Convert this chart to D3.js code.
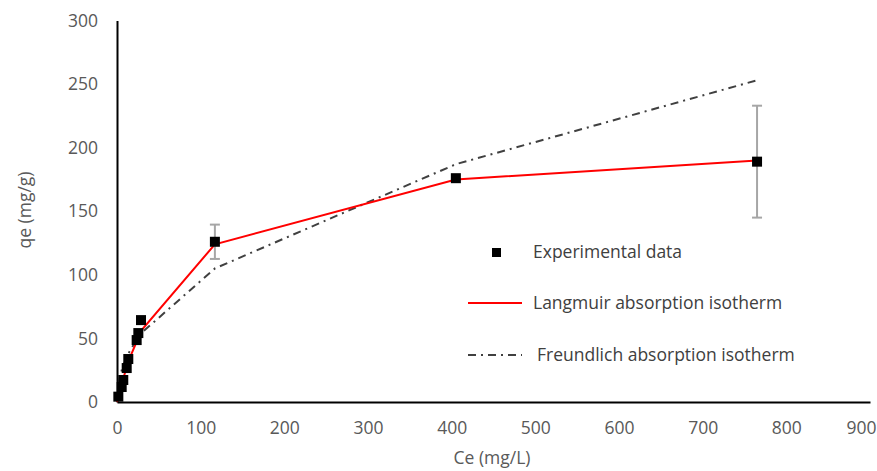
<!DOCTYPE html>
<html>
<head>
<meta charset="utf-8">
<script src="https://cdn.jsdelivr.net/npm/d3@7"></script>
<style>
  body { margin: 0; background: #fff; }
  text { font-family: "Open Sans", "Liberation Sans", Arial, sans-serif; }
</style>
</head>
<body>
<script>
// experimental points
var ce = [1.6, 5.6, 7.5, 11.6, 13.5, 23.5, 25.5, 28.7, 117, 405, 765];
var qe = [4.2, 11.8, 17.3, 26.7, 33.8, 48.7, 54.2, 64.4, 126, 176, 189];
var qeErr = [0, 0, 0, 0, 0, 0, 0, 0, 13.5, 0, 44];

// model curves
var langCe = [0, 1.6, 5.6, 7.5, 11.6, 13.5, 23.5, 25.5, 28.7, 117, 405, 765];
var langmuir = [0, 4, 14, 18.5, 27.5, 32, 47.5, 51, 56, 124, 175, 190];
var freundlich = [14, 25, 28.6, 35, 38, 49, 51, 54, 105, 187, 253];

var xTicks = [0, 100, 200, 300, 400, 500, 600, 700, 800, 900];
var yTicks = [0, 50, 100, 150, 200, 250, 300];

var legendLabels = ["Experimental data", "Langmuir absorption isotherm", "Freundlich absorption isotherm"];

var width = 877, height = 471;

var svg = d3.select("body").append("svg")
    .attr("width", width)
    .attr("height", height);

var x_scale = d3.scaleLinear().domain([0, 900]).range([117, 870]);
var y_scale = d3.scaleLinear().domain([0, 300]).range([402, 20.5]);

var tickColor = "#595959";
var fs = "17.5px";

// axes: only the lines, no ticks
var xAxis = d3.axisBottom(x_scale).tickValues(xTicks).tickSize(0).tickPadding(20);
var yAxis = d3.axisLeft(y_scale).tickValues(yTicks).tickSize(0).tickPadding(19);

var gx = svg.append("g")
    .attr("transform", "translate(0," + y_scale(0) + ")")
    .call(xAxis);
gx.select(".domain").attr("stroke", "#000").attr("stroke-width", 2);
gx.selectAll("text").attr("fill", tickColor).style("font-size", fs);
// last label sits at the window edge
gx.selectAll(".tick").filter(function(d){ return d === 900; }).select("text")
    .attr("text-anchor", "end").attr("x", 6);

var gy = svg.append("g")
    .attr("transform", "translate(" + x_scale(0) + ",0)")
    .call(yAxis);
gy.select(".domain").attr("stroke", "#000").attr("stroke-width", 2);
gy.selectAll("text").attr("fill", tickColor).style("font-size", fs);

// axis titles
svg.append("text")
    .attr("x", 492)
    .attr("y", 464)
    .attr("text-anchor", "middle")
    .attr("fill", tickColor)
    .style("font-size", fs)
    .text("Ce (mg/L)");

svg.append("text")
    .attr("transform", "translate(31,210) rotate(-90)")
    .attr("text-anchor", "middle")
    .attr("fill", tickColor)
    .style("font-size", fs)
    .text("qe (mg/g)");

// freundlich dash-dot
var freLine = d3.line()
    .x(function(d, i){ return x_scale(ce[i]); })
    .y(function(d){ return y_scale(d); });

svg.append("path")
    .datum(freundlich)
    .attr("d", freLine)
    .attr("fill", "none")
    .attr("stroke", "#404040")
    .attr("stroke-width", 2)
    .attr("stroke-dasharray", "8,5,2,5");

// langmuir line
var langLine = d3.line()
    .x(function(d, i){ return x_scale(langCe[i]); })
    .y(function(d){ return y_scale(d); });

svg.append("path")
    .datum(langmuir)
    .attr("d", langLine)
    .attr("fill", "none")
    .attr("stroke", "#ff0000")
    .attr("stroke-width", 2);

// error bars
var errData = ce.map(function(c, i){ return {X: c, Y: qe[i], E: qeErr[i]}; })
    .filter(function(d){ return d.E > 0; });

var eb = svg.selectAll(".err").data(errData).enter().append("g").attr("class", "err")
    .attr("stroke", "#a6a6a6").attr("stroke-width", 2);
eb.append("line")
    .attr("x1", function(d){ return x_scale(d.X); })
    .attr("x2", function(d){ return x_scale(d.X); })
    .attr("y1", function(d){ return y_scale(d.Y + d.E); })
    .attr("y2", function(d){ return y_scale(d.Y - d.E); });
eb.append("line")
    .attr("x1", function(d){ return x_scale(d.X) - 5; })
    .attr("x2", function(d){ return x_scale(d.X) + 5; })
    .attr("y1", function(d){ return y_scale(d.Y + d.E); })
    .attr("y2", function(d){ return y_scale(d.Y + d.E); });
eb.append("line")
    .attr("x1", function(d){ return x_scale(d.X) - 5; })
    .attr("x2", function(d){ return x_scale(d.X) + 5; })
    .attr("y1", function(d){ return y_scale(d.Y - d.E); })
    .attr("y2", function(d){ return y_scale(d.Y - d.E); });

// experimental squares
var sq = 10;
svg.selectAll(".pt").data(ce).enter().append("rect")
    .attr("class", "pt")
    .attr("x", function(d){ return x_scale(d) - sq / 2; })
    .attr("y", function(d, i){ return y_scale(qe[i]) - sq / 2; })
    .attr("width", sq)
    .attr("height", sq)
    .attr("fill", "#000");

// legend
var lg = svg.append("g");
lg.append("rect").attr("x", 492).attr("y", 248).attr("width", 9).attr("height", 9).attr("fill", "#000");
lg.append("line").attr("x1", 468).attr("x2", 522).attr("y1", 303).attr("y2", 303)
    .attr("stroke", "#ff0000").attr("stroke-width", 2);
lg.append("line").attr("x1", 468).attr("x2", 522).attr("y1", 355).attr("y2", 355)
    .attr("stroke", "#404040").attr("stroke-width", 2).attr("stroke-dasharray", "8,5,2,5");

var legendPos = [[533, 258], [533, 309], [537, 361]];
lg.selectAll("text").data(legendLabels).enter().append("text")
    .attr("x", function(d, i){ return legendPos[i][0]; })
    .attr("y", function(d, i){ return legendPos[i][1]; })
    .attr("fill", "#404040")
    .style("font-size", fs)
    .text(function(d){ return d; });
</script>
</body>
</html>
